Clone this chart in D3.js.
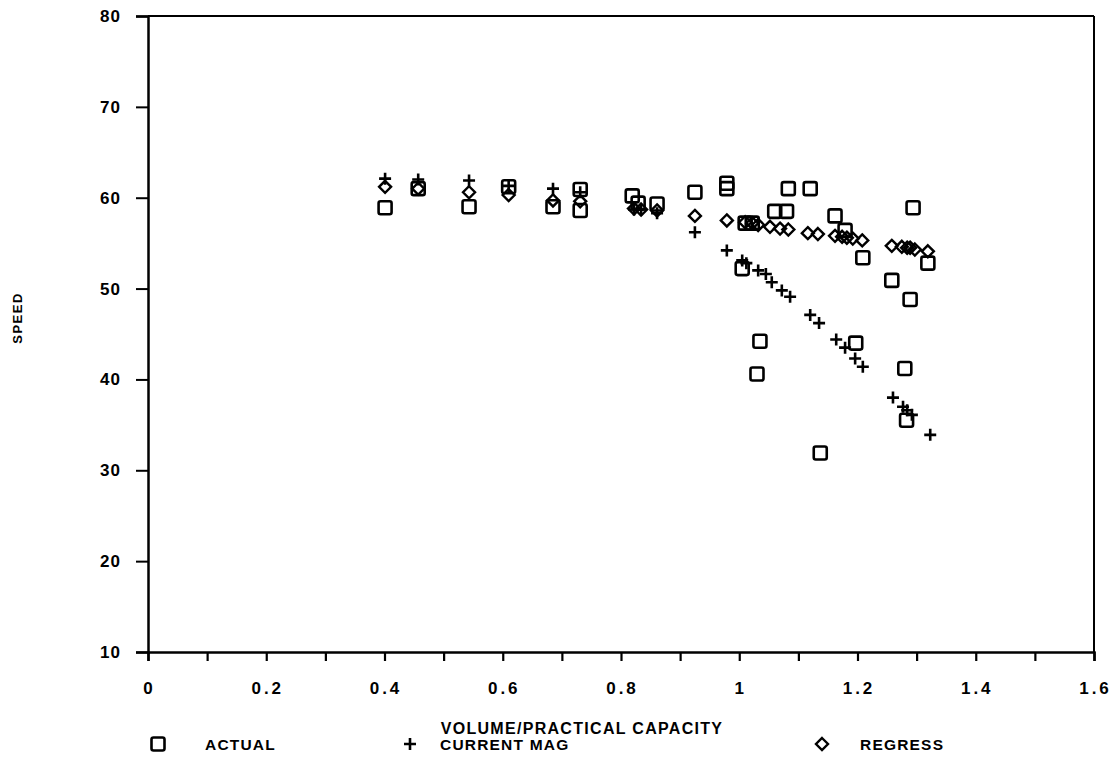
<!DOCTYPE html>
<html><head><meta charset="utf-8">
<script src="https://cdn.jsdelivr.net/npm/d3@7"></script>
<style>
body{margin:0;background:#fff;}
text{font-family:"Liberation Sans",Arial,sans-serif;font-weight:bold;fill:#000;}
</style></head><body>
<svg id="c" width="1115" height="764"></svg>
<script>
// Data
const actualX = [0.401,0.457,0.543,0.610,0.685,0.731,0.731,0.819,0.829,0.861,0.925,0.979,0.979,1.005,1.010,1.022,1.035,1.030,1.060,1.080,1.083,1.120,1.137,1.162,1.179,1.197,1.209,1.258,1.280,1.283,1.289,1.294,1.319];
const actualY = [58.9,61.0,59.0,61.2,59.0,60.9,58.6,60.2,59.4,59.3,60.6,61.6,61.0,52.2,57.2,57.2,44.2,40.6,58.5,58.5,61.0,61.0,31.9,58.0,56.4,44.0,53.4,50.9,41.2,35.5,48.8,58.9,52.8];
const currentX = [0.401,0.457,0.543,0.610,0.685,0.731,0.822,0.834,0.861,0.925,0.979,1.005,1.012,1.032,1.045,1.055,1.072,1.086,1.120,1.135,1.164,1.179,1.196,1.209,1.260,1.277,1.284,1.292,1.323];
const currentY = [62.1,62.0,61.9,61.3,61.0,60.6,58.7,58.7,58.3,56.2,54.2,53.1,52.8,52.0,51.6,50.7,49.8,49.1,47.1,46.2,44.4,43.5,42.3,41.4,38.0,37.0,36.6,36.1,33.9];
const regressX = [0.401,0.457,0.543,0.610,0.685,0.731,0.822,0.834,0.861,0.925,0.979,1.010,1.022,1.032,1.052,1.069,1.083,1.116,1.133,1.162,1.174,1.182,1.192,1.208,1.258,1.275,1.284,1.289,1.297,1.319];
const regressY = [61.2,61.0,60.6,60.3,59.7,59.6,58.8,58.7,58.6,58.0,57.5,57.3,57.2,57.0,56.8,56.6,56.5,56.1,56.0,55.8,55.7,55.6,55.5,55.3,54.7,54.6,54.5,54.5,54.3,54.1];
const xTicks = [0,0.2,0.4,0.6,0.8,1,1.2,1.4,1.6];
const xMinorTicks = [0,0.1,0.2,0.3,0.4,0.5,0.6,0.7,0.8,0.9,1,1.1,1.2,1.3,1.4,1.5,1.6];
const yTicks = [10,20,30,40,50,60,70,80];
const legendLabels = ["ACTUAL","CURRENT MAG","REGRESS"];

const svg = d3.select("#c");
const L=148, R=1094, T=16, B=652;
const x = d3.scaleLinear().domain([0,1.6]).range([L,R]);
const y = d3.scaleLinear().domain([10,80]).range([B,T]);

// frame top & right
svg.append("line").attr("x1",L).attr("x2",R).attr("y1",T).attr("y2",T).attr("stroke","#000").attr("stroke-width",2);
svg.append("line").attr("x1",R).attr("x2",R).attr("y1",T).attr("y2",B).attr("stroke","#000").attr("stroke-width",2);

// x axis
const xa = svg.append("g").attr("transform",`translate(0,${B})`)
  .call(d3.axisBottom(x).tickValues(xMinorTicks).tickSize(9).tickFormat(""));
xa.select(".domain").attr("stroke-width",2.5);
xa.selectAll(".tick line").attr("stroke-width",2.2);
svg.append("g").selectAll("text").data(xTicks).join("text")
  .attr("x",d=>x(d)+1.5).attr("y",B+42).attr("text-anchor","middle")
  .attr("font-size",17).attr("letter-spacing",3).text(d=>d3.format("~g")(d));

// y axis
const ya = svg.append("g").attr("transform",`translate(${L},0)`)
  .call(d3.axisLeft(y).tickValues(yTicks).tickSize(12).tickFormat(""));
ya.select(".domain").attr("stroke-width",2.5);
ya.selectAll(".tick line").attr("stroke-width",2);
svg.append("g").selectAll("text").data(yTicks).join("text")
  .attr("x",L-27).attr("y",d=>y(d)+6).attr("text-anchor","end")
  .attr("font-size",17).attr("letter-spacing",1).text(d=>d);

// axis titles
svg.append("text").attr("x",582).attr("y",734).attr("text-anchor","middle").attr("font-size",16).attr("letter-spacing",1.3).text("VOLUME/PRACTICAL CAPACITY");
svg.append("text").attr("transform","translate(22,318) rotate(-90)").attr("text-anchor","middle").attr("font-size",13).attr("letter-spacing",1.5).text("SPEED");

// markers
const sq = (g,cx,cy)=>g.append("rect").attr("x",cx-6.5).attr("y",cy-6.5).attr("width",13).attr("height",13).attr("rx",2)
  .attr("fill","none").attr("stroke","#000").attr("stroke-width",2.6);
const plus = (g,cx,cy)=>g.append("path").attr("d",`M${cx-6},${cy}H${cx+6}M${cx},${cy-6}V${cy+6}`)
  .attr("fill","none").attr("stroke","#000").attr("stroke-width",2.6);
const dia = (g,cx,cy)=>g.append("path").attr("d",`M${cx},${cy-6}L${cx+6},${cy}L${cx},${cy+6}L${cx-6},${cy}Z`)
  .attr("fill","none").attr("stroke","#000").attr("stroke-width",2.4);

const gA = svg.append("g"), gC = svg.append("g"), gR = svg.append("g");
actualX.forEach((v,i)=>sq(gA,x(v),y(actualY[i])));
currentX.forEach((v,i)=>plus(gC,x(v),y(currentY[i])));
regressX.forEach((v,i)=>dia(gR,x(v),y(regressY[i])));

// legend
const lg = svg.append("g");
const legendPos = [[158,205],[410,440],[822,860]];
const makers=[sq,plus,dia];
legendLabels.forEach((t,i)=>{
  makers[i](lg,legendPos[i][0],744);
  lg.append("text").attr("x",legendPos[i][1]).attr("y",750).attr("font-size",15.5).attr("letter-spacing",1.2).text(t);
});
</script></body></html>
